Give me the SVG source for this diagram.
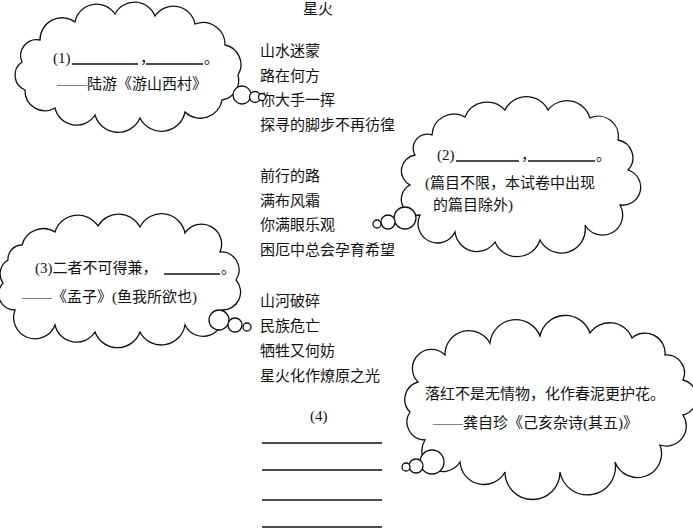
<svg xmlns="http://www.w3.org/2000/svg" width="693" height="531" viewBox="0 0 693 531">
<style>
text{font-family:"Liberation Serif","Noto Sans CJK SC",serif;font-size:15px;fill:#111}
.c{fill:#fff;stroke:#111;stroke-width:1.3}
.u{stroke:#111;stroke-width:1.3}
</style>
<rect width="693" height="531" fill="#fff"/>
<g id="poem">
<text x="303" y="14">星火</text>
<text x="260" y="56">山水迷蒙</text>
<text x="260" y="81">路在何方</text>
<text x="260" y="105">你大手一挥</text>
<text x="260" y="130">探寻的脚步不再彷徨</text>
<text x="260" y="181">前行的路</text>
<text x="260" y="206">满布风霜</text>
<text x="260" y="230">你满眼乐观</text>
<text x="260" y="255">困厄中总会孕育希望</text>
<text x="260" y="306">山河破碎</text>
<text x="260" y="331">民族危亡</text>
<text x="260" y="356">牺牲又何妨</text>
<text x="260" y="381">星火化作燎原之光</text>
<text x="310" y="421">(4)</text>
<line class="u" x1="262" y1="443" x2="382" y2="443"/>
<line class="u" x1="262" y1="470" x2="382" y2="470"/>
<line class="u" x1="262" y1="500" x2="382" y2="500"/>
<line class="u" x1="262" y1="527" x2="382" y2="527"/>
</g>
<g id="cloud1">
<path class="c" d="M40,40 A22,22 0 0 1 75,22 A22,22 0 0 1 115,14 A22,22 0 0 1 155,16 A22,22 0 0 1 195,24 A22,22 0 0 1 225,45 A20,20 0 0 1 238,75 A20,20 0 0 1 222,100 A22,22 0 0 1 185,112 A24,24 0 0 1 140,118 A24,24 0 0 1 95,115 A22,22 0 0 1 55,108 A20,20 0 0 1 25,90 A16,16 0 0 1 22,62 A16,16 0 0 1 40,40Z"/>
<circle class="c" cx="242" cy="95" r="9"/><circle class="c" cx="255" cy="97" r="5.5"/><circle class="c" cx="262" cy="97" r="3.5"/>
<text x="53" y="63">(1)</text>
<line class="u" x1="72" y1="64" x2="138" y2="64"/><text x="140" y="63">，</text>
<line class="u" x1="146" y1="64" x2="203" y2="64"/><text x="204" y="63">。</text>
<text x="57" y="89">——陆游《游山西村》</text>
</g>
<g id="cloud2">
<path class="c" d="M432,135 A22,22 0 0 1 465,117 A24,24 0 0 1 505,110 A24,24 0 0 1 548,110 A24,24 0 0 1 590,118 A20,20 0 0 1 618,140 A18,18 0 0 1 628,170 A18,18 0 0 1 620,205 A20,20 0 0 1 585,225 A24,24 0 0 1 540,240 A24,24 0 0 1 495,242 A22,22 0 0 1 455,232 A18,18 0 0 1 420,215 A16,16 0 0 1 410,185 A16,16 0 0 1 415,155 A14,14 0 0 1 432,135Z"/>
<circle class="c" cx="405" cy="218" r="11"/><circle class="c" cx="388" cy="222" r="7"/><circle class="c" cx="377" cy="224" r="4"/>
<text x="437" y="160">(2)</text>
<line class="u" x1="456" y1="161" x2="519" y2="161"/><text x="521" y="160">，</text>
<line class="u" x1="528" y1="161" x2="595" y2="161"/><text x="596" y="160">。</text>
<text x="425" y="188">(篇目不限，本试卷中出现</text>
<text x="433" y="210">的篇目除外)</text>
</g>
<g id="cloud3">
<path class="c" d="M22,245 A22,22 0 0 1 55,232 A24,24 0 0 1 98,226 A24,24 0 0 1 140,227 A24,24 0 0 1 185,233 A20,20 0 0 1 220,252 A18,18 0 0 1 236,280 A18,18 0 0 1 222,310 A20,20 0 0 1 185,325 A24,24 0 0 1 140,332 A24,24 0 0 1 95,332 A22,22 0 0 1 55,325 A20,20 0 0 1 15,310 A16,16 0 0 1 3,283 A16,16 0 0 1 8,260 A14,14 0 0 1 22,245Z"/>
<circle class="c" cx="219" cy="320" r="10"/><circle class="c" cx="235" cy="325" r="7"/><circle class="c" cx="247" cy="327" r="4"/>
<text x="35" y="273">(3)二者不可得兼，</text>
<line class="u" x1="164" y1="274" x2="220" y2="274"/><text x="221" y="273">。</text>
<text x="22" y="302">——《孟子》(鱼我所欲也)</text>
</g>
<g id="cloud4">
<path class="c" d="M445,355 A24,24 0 0 1 490,343 A26,26 0 0 1 540,336 A26,26 0 0 1 590,333 A24,24 0 0 1 632,338 A20,20 0 0 1 665,355 A18,18 0 0 1 683,380 A18,18 0 0 1 683,415 A20,20 0 0 1 660,445 A24,24 0 0 1 615,462 A26,26 0 0 1 560,472 A26,26 0 0 1 505,472 A24,24 0 0 1 460,462 A20,20 0 0 1 425,440 A18,18 0 0 1 410,412 A18,18 0 0 1 418,382 A18,18 0 0 1 445,355Z"/>
<circle class="c" cx="432" cy="462" r="12"/><circle class="c" cx="416" cy="466" r="7"/><circle class="c" cx="406" cy="467" r="4"/>
<text x="425" y="399">落红不是无情物，化作春泥更护花。</text>
<text x="433" y="428">——龚自珍《己亥杂诗(其五)》</text>
</g>
</svg>
